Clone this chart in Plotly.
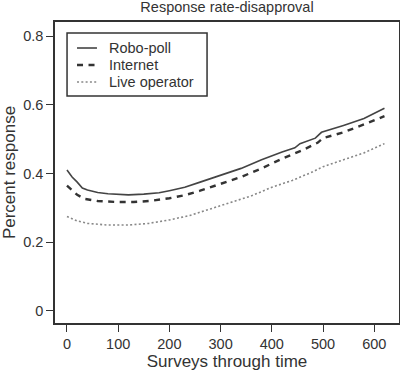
import plotly.graph_objects as go

robo_x = [0, 10, 20, 30, 40, 60, 80, 100, 120, 150, 180, 200, 230, 260, 300, 340, 380, 420, 445, 455, 485, 497, 540, 580, 620]
robo_y = [0.41, 0.39, 0.375, 0.358, 0.352, 0.345, 0.341, 0.339, 0.338, 0.34, 0.344, 0.35, 0.36, 0.375, 0.395, 0.415, 0.44, 0.463, 0.475, 0.487, 0.503, 0.52, 0.54, 0.56, 0.59]

inet_x = [0, 10, 20, 35, 60, 100, 130, 160, 200, 230, 260, 300, 340, 380, 420, 460, 490, 500, 540, 580, 620]
inet_y = [0.365, 0.35, 0.338, 0.326, 0.32, 0.317, 0.317, 0.32, 0.328, 0.337, 0.35, 0.37, 0.39, 0.415, 0.443, 0.468, 0.49, 0.503, 0.52, 0.543, 0.567]

live_x = [0, 20, 40, 80, 120, 160, 200, 240, 280, 320, 360, 400, 440, 480, 500, 540, 580, 620]
live_y = [0.275, 0.262, 0.255, 0.25, 0.25, 0.255, 0.265, 0.278, 0.297, 0.315, 0.335, 0.36, 0.38, 0.405, 0.42, 0.44, 0.46, 0.487]

series_names = ["Robo-poll", "Internet", "Live operator"]

x_ticks = [0, 100, 200, 300, 400, 500, 600]
y_ticks = [0, 0.2, 0.4, 0.6, 0.8]
y_tick_labels = ["0", "0.2", "0.4", "0.6", "0.8"]

styles = [
    dict(color="#444444", width=1.6, dash="solid"),
    dict(color="#333333", width=2.4, dash="6px,5.5px"),
    dict(color="#888888", width=1.6, dash="2px,2.3px"),
]

fig = go.Figure()
for name, xs, ys, st in zip(series_names, [robo_x, inet_x, live_x],
                            [robo_y, inet_y, live_y], styles):
    fig.add_trace(go.Scatter(x=xs, y=ys, mode="lines", name=name, line=st,
                             showlegend=False))

FS = 14.5
TXT = "#333333"
font = dict(family="Liberation Sans, Arial, sans-serif", size=FS, color=TXT)

# manual legend (paper coordinates)
leg_x0, leg_x1, leg_y0, leg_y1 = 0.035, 0.442, 0.754, 0.9635
entry_y = [0.9136, 0.8571, 0.8007]
fig.add_shape(type="rect", xref="paper", yref="paper", x0=leg_x0, x1=leg_x1,
              y0=leg_y0, y1=leg_y1, line=dict(color=TXT, width=1.5),
              fillcolor="white")
for name, ey, st in zip(series_names, entry_y, styles):
    fig.add_shape(type="line", xref="paper", yref="paper", x0=0.064, x1=0.122,
                  y0=ey, y1=ey, line=st)
    fig.add_annotation(text=name, xref="paper", yref="paper", x=0.152, y=ey,
                       xanchor="left", yanchor="middle", showarrow=False,
                       font=dict(size=FS, color=TXT))

fig.update_layout(
    width=400, height=372,
    margin=dict(l=55, r=1, t=22, b=49, autoexpand=False),
    paper_bgcolor="white", plot_bgcolor="white",
    font=font,
    title=dict(text="Response rate-disapproval", x=0.5675, xanchor="center",
               y=0.981, yanchor="middle", pad=dict(t=0, b=0),
               font=dict(size=FS, color=TXT)),
    showlegend=False,
    xaxis=dict(range=[-23.4, 648.4], tickvals=x_ticks, ticks="outside", ticklen=7,
               tickcolor=TXT, showline=True, linecolor=TXT, linewidth=1.5,
               mirror=True, showgrid=False, zeroline=False, automargin=False,
               title=dict(text="Surveys through time", standoff=2)),
    yaxis=dict(range=[-0.035, 0.841], tickvals=y_ticks, ticktext=y_tick_labels,
               ticks="outside", ticklen=7, tickcolor=TXT, showline=True,
               linecolor=TXT, linewidth=1.5, mirror=True, showgrid=False,
               zeroline=False, automargin=False,
               title=dict(text="Percent response", standoff=4)),
)

fig.write_html("out.html", config={"displayModeBar": False},
               post_script="document.body.style.margin='0';document.body.style.padding='0';")
